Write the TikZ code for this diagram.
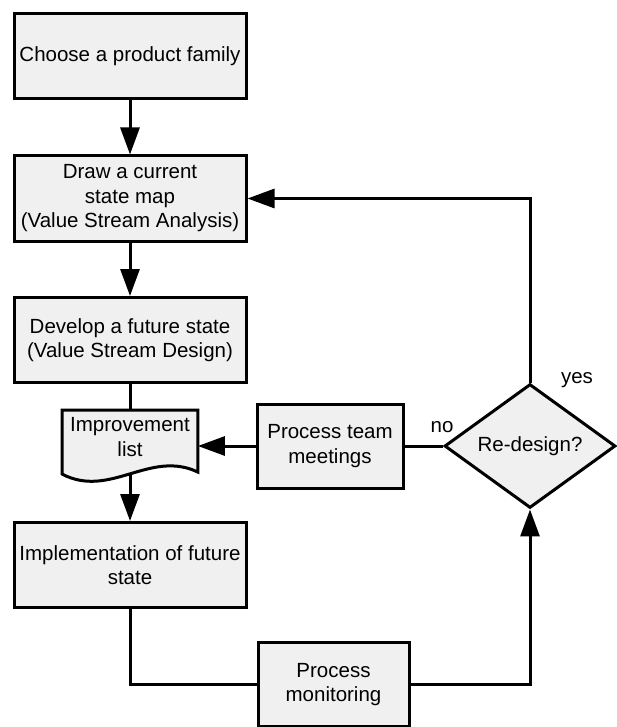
\documentclass[tikz,border=0pt]{standalone}
\usepackage{fontspec}
\setmainfont{Liberation Sans}
\usetikzlibrary{arrows.meta,shapes.geometric,calc}

\definecolor{boxfill}{RGB}{240,240,240}
\newcommand\flowfont{\fontsize{20.5}{24.5}\selectfont}

\tikzset{
  shapeline/.style={draw=black, line width=3pt},
  stepbox/.style={shapeline, fill=boxfill, rectangle, align=center,
    inner sep=0pt, font=\flowfont, minimum width=232pt, minimum height=85pt},
  sidebox/.style={stepbox, minimum width=146pt, minimum height=84pt},
  decision/.style={shapeline, fill=boxfill, diamond, align=center,
    inner sep=0pt, font=\flowfont, minimum width=171pt, minimum height=104pt},
  doctext/.style={rectangle, align=center, inner sep=0pt, font=\flowfont,
    minimum width=135.4pt, minimum height=53.4pt},
  label/.style={font=\flowfont, inner sep=0pt},
  link/.style={line width=3pt},
  arr/.style={link, -{Triangle[length=27pt,width=19pt]}},
}

\begin{document}
\begin{tikzpicture}[x=1pt, y=-1pt]
  \useasboundingbox (0,0) rectangle (616,727);

  % main column
  \node[stepbox] (b1) at (130,56.5) {Choose a product family};
  \node[stepbox] (b2) at (130,198.5) {Draw a current\\state map\\(Value Stream Analysis)};
  \node[stepbox] (b3) at (130,340) {Develop a future state\\(Value Stream Design)};
  \node[stepbox] (b4) at (130,565) {Implementation of future\\state};

  % document symbol with wavy bottom
  \node[doctext] (doc) at (130,437) {};
  \coordinate (dSE) at ($(doc.north east)+(0,62)$);
  \coordinate (dSW) at ($(doc.north west)+(0,64)$);
  \draw[shapeline, fill=boxfill] (doc.north west) -- (doc.north east) -- (dSE)
    .. controls ($(dSE)+(-48,-23)$) and ($(dSW)+(48,25)$) .. (dSW) -- cycle;
  \node[doctext] (doclabel) at (doc) {Improvement\\list};
  \coordinate (docbot) at (130,474);

  % side nodes
  \node[sidebox] (ptm) at (330,446) {Process team\\meetings};
  \node[sidebox, minimum width=151pt] (pm) at (333.5,684.5) {Process\\monitoring};
  \node[decision] (dec) at (530,446) {Re-design?};

  % labels
  \node[label] (nolab) at (442,427) {no};
  \node[label] (yeslab) at (577,380) {yes};

  % connectors
  \draw[arr] (b1) -- (b2);
  \draw[arr] (b2) -- (b3);
  \draw[link] (b3.south) -- (doc.north);
  \draw[arr] (docbot) -- (b4.north);
  \draw[link] (b4.south) |- (pm.west);
  \draw[arr] (pm.east) -| (dec.south);
  \draw[arr] (dec.north) |- (b2.east);
  \draw[link] (dec.west) -- (ptm.east);
  \draw[arr] (ptm.west) -- (ptm.west -| doc.east);
\end{tikzpicture}
\end{document}
